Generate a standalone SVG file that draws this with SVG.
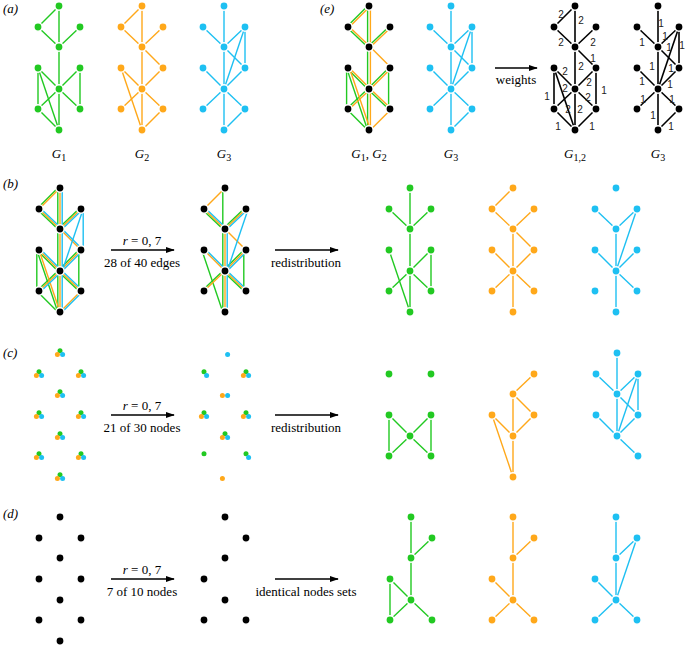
<svg xmlns="http://www.w3.org/2000/svg" xmlns:xlink="http://www.w3.org/1999/xlink" width="685" height="645" viewBox="0 0 685 645">
<style>
.g{stroke:#22c922;fill:#22c922}.o{stroke:#ffa81a;fill:#ffa81a}.b{stroke:#1ec0f2;fill:#1ec0f2}.k{stroke:#000;fill:#000}
.E use{stroke-width:1.4;fill:none}
.W use{stroke-width:1.6}
text{font-family:"Liberation Serif",serif;font-size:13px;fill:#000;stroke:none}
.lab{font-style:italic}
.w{font-family:"Liberation Sans",sans-serif;font-size:10px;text-anchor:middle;dominant-baseline:central;fill:#222}
.ar{stroke:#000;stroke-width:1.3;fill:none}
</style>
<defs>
<marker id="ah" viewBox="0 0 10 10" refX="9" refY="5" markerWidth="9" markerHeight="9" markerUnits="userSpaceOnUse" orient="auto"><path d="M0,1.5L10,5L0,8.5z" fill="#000"/></marker>
<line id="e01" x1="0" y1="0" x2="-21" y2="21"/>
<line id="e03" x1="0" y1="0" x2="0" y2="41"/>
<line id="e13" x1="-21" y1="21" x2="0" y2="41"/>
<line id="e23" x1="21" y1="21" x2="0" y2="41"/>
<line id="e25" x1="21" y1="21" x2="21" y2="62"/>
<line id="e26" x1="21" y1="21" x2="0" y2="83"/>
<line id="e35" x1="0" y1="41" x2="21" y2="62"/>
<line id="e36" x1="0" y1="41" x2="0" y2="83"/>
<line id="e46" x1="-21" y1="62" x2="0" y2="83"/>
<line id="e56" x1="21" y1="62" x2="0" y2="83"/>
<line id="e47" x1="-21" y1="62" x2="-21" y2="103"/>
<line id="e49" x1="-21" y1="62" x2="0" y2="124"/>
<line id="e58" x1="21" y1="62" x2="21" y2="103"/>
<line id="e67" x1="0" y1="83" x2="-21" y2="103"/>
<line id="e68" x1="0" y1="83" x2="21" y2="103"/>
<line id="e69" x1="0" y1="83" x2="0" y2="124"/>
<line id="e79" x1="-21" y1="103" x2="0" y2="124"/>
<line id="e89" x1="21" y1="103" x2="0" y2="124"/>
<circle id="p0" cx="0" cy="0" r="4.2" stroke="#fff" stroke-width="1.6"/>
<circle id="p1" cx="-21" cy="21" r="4.2" stroke="#fff" stroke-width="1.6"/>
<circle id="p2" cx="21" cy="21" r="4.2" stroke="#fff" stroke-width="1.6"/>
<circle id="p3" cx="0" cy="41" r="4.2" stroke="#fff" stroke-width="1.6"/>
<circle id="p4" cx="-21" cy="62" r="4.2" stroke="#fff" stroke-width="1.6"/>
<circle id="p5" cx="21" cy="62" r="4.2" stroke="#fff" stroke-width="1.6"/>
<circle id="p6" cx="0" cy="83" r="4.2" stroke="#fff" stroke-width="1.6"/>
<circle id="p7" cx="-21" cy="103" r="4.2" stroke="#fff" stroke-width="1.6"/>
<circle id="p8" cx="21" cy="103" r="4.2" stroke="#fff" stroke-width="1.6"/>
<circle id="p9" cx="0" cy="124" r="4.2" stroke="#fff" stroke-width="1.6"/>
<g id="N"><use href="#p0"/><use href="#p1"/><use href="#p2"/><use href="#p3"/><use href="#p4"/><use href="#p5"/><use href="#p6"/><use href="#p7"/><use href="#p8"/><use href="#p9"/></g>
<g id="T0"><circle cx="0" cy="-2.3" r="2.5" fill="#22c922"/><circle cx="-2.6" cy="1.5" r="2.5" fill="#ffa81a"/><circle cx="2.6" cy="1.5" r="2.5" fill="#1ec0f2"/></g>
<g id="G1e"><use href="#e01"/><use href="#e03"/><use href="#e13"/><use href="#e23"/><use href="#e36"/><use href="#e46"/><use href="#e56"/><use href="#e47"/><use href="#e49"/><use href="#e58"/><use href="#e67"/><use href="#e68"/><use href="#e69"/><use href="#e79"/></g>
<g id="G2e"><use href="#e01"/><use href="#e03"/><use href="#e13"/><use href="#e23"/><use href="#e35"/><use href="#e36"/><use href="#e46"/><use href="#e56"/><use href="#e49"/><use href="#e67"/><use href="#e68"/><use href="#e69"/><use href="#e89"/></g>
<g id="G3e"><use href="#e03"/><use href="#e13"/><use href="#e23"/><use href="#e25"/><use href="#e35"/><use href="#e26"/><use href="#e36"/><use href="#e46"/><use href="#e56"/><use href="#e67"/><use href="#e68"/><use href="#e69"/><use href="#e89"/></g>
<g id="Gbg"><use href="#e03"/><use href="#e13"/><use href="#e23"/><use href="#e36"/><use href="#e49"/><use href="#e56"/><use href="#e58"/><use href="#e67"/><use href="#e68"/><use href="#e69"/></g>
<g id="Gbo"><use href="#e01"/><use href="#e13"/><use href="#e23"/><use href="#e35"/><use href="#e36"/><use href="#e46"/><use href="#e56"/><use href="#e67"/><use href="#e68"/><use href="#e69"/></g>
<g id="Gbb"><use href="#e13"/><use href="#e23"/><use href="#e26"/><use href="#e36"/><use href="#e46"/><use href="#e56"/><use href="#e68"/><use href="#e69"/></g>
</defs>
<rect width="685" height="645" fill="#fff"/>

<!-- row labels -->
<text x="3" y="13" class="lab">(a)</text>
<text x="320" y="13" class="lab">(e)</text>
<text x="3" y="188" class="lab">(b)</text>
<text x="3" y="357" class="lab">(c)</text>
<text x="3" y="518" class="lab">(d)</text>

<!-- connectors: arrows -->
<g id="connectors">
<line class="ar" x1="495" y1="68" x2="537" y2="68" marker-end="url(#ah)"/>
<line class="ar" x1="111" y1="250" x2="174" y2="250" marker-end="url(#ah)"/>
<line class="ar" x1="275" y1="250" x2="338" y2="250" marker-end="url(#ah)"/>
<line class="ar" x1="111" y1="415" x2="174" y2="415" marker-end="url(#ah)"/>
<line class="ar" x1="275" y1="415" x2="338" y2="415" marker-end="url(#ah)"/>
<line class="ar" x1="111" y1="579" x2="174" y2="579" marker-end="url(#ah)"/>
<line class="ar" x1="275" y1="579" x2="338" y2="579" marker-end="url(#ah)"/>
</g>
<g id="arrow-labels" text-anchor="middle">
<text x="516" y="84">weights</text>
<text x="142" y="245"><tspan font-style="italic">r</tspan> = 0, 7</text>
<text x="142" y="267">28 of 40 edges</text>
<text x="306" y="267">redistribution</text>
<text x="142" y="410"><tspan font-style="italic">r</tspan> = 0, 7</text>
<text x="142" y="432">21 of 30 nodes</text>
<text x="306" y="432">redistribution</text>
<text x="142" y="574"><tspan font-style="italic">r</tspan> = 0, 7</text>
<text x="142" y="596">7 of 10 nodes</text>
<text x="306" y="596">identical nodes sets</text>
</g>

<!-- row a -->
<g id="a-G1" transform="translate(59,6)"><g class="E g"><use href="#G1e"/></g><use href="#N" class="g" style="stroke:none"/></g>
<g id="a-G2" transform="translate(142,6)"><g class="E o"><use href="#G2e"/></g><use href="#N" class="o" style="stroke:none"/></g>
<g id="a-G3" transform="translate(224,6)"><g class="E b"><use href="#G3e"/></g><use href="#N" class="b" style="stroke:none"/></g>
<g font-size="14" class="lab" text-anchor="middle">
<text x="59" y="158" class="lab">G<tspan font-size="10" dy="3" font-style="normal">1</tspan></text>
<text x="142" y="158" class="lab">G<tspan font-size="10" dy="3" font-style="normal">2</tspan></text>
<text x="224" y="158" class="lab">G<tspan font-size="10" dy="3" font-style="normal">3</tspan></text>
<text x="369" y="158" class="lab">G<tspan font-size="10" dy="3" font-style="normal">1</tspan><tspan dy="-3" font-style="normal">, </tspan>G<tspan font-size="10" dy="3" font-style="normal">2</tspan></text>
<text x="451" y="158" class="lab">G<tspan font-size="10" dy="3" font-style="normal">3</tspan></text>
<text x="575" y="158" class="lab">G<tspan font-size="10" dy="3" font-style="normal">1,2</tspan></text>
<text x="658" y="158" class="lab">G<tspan font-size="10" dy="3" font-style="normal">3</tspan></text>
</g>

<!-- row e -->
<g id="e-G12" transform="translate(369,6)"><g class="E g" transform="translate(-1.4,0)"><use href="#G1e"/></g><g class="E o" transform="translate(1.4,0)"><use href="#G2e"/></g><use href="#N" class="k" style="stroke:none"/></g>
<g id="e-G3" transform="translate(451,6)"><g class="E b"><use href="#G3e"/></g><use href="#N" class="b" style="stroke:none"/></g>
<g id="e-W12" transform="translate(575,6)">
<g class="E W k"><use href="#e01"/><use href="#e03"/><use href="#e13"/><use href="#e23"/><use href="#e35"/><use href="#e36"/><use href="#e46"/><use href="#e56"/><use href="#e47"/><use href="#e49"/><use href="#e58"/><use href="#e67"/><use href="#e68"/><use href="#e69"/><use href="#e79"/><use href="#e89"/></g>
<use href="#N" class="k" style="stroke:none"/>
<text class="w" x="-14" y="8">2</text><text class="w" x="6" y="14">2</text><text class="w" x="-14" y="36">2</text><text class="w" x="18" y="36">2</text><text class="w" x="18" y="52">1</text><text class="w" x="6" y="60">2</text><text class="w" x="-10" y="65">2</text><text class="w" x="-10" y="82">2</text><text class="w" x="-7" y="103">2</text><text class="w" x="14" y="76">2</text><text class="w" x="13" y="91">2</text><text class="w" x="5" y="103">2</text><text class="w" x="-28" y="90">1</text><text class="w" x="29" y="84">1</text><text class="w" x="-17" y="120">1</text><text class="w" x="17" y="120">1</text>
</g>
<g id="e-W3" transform="translate(658,6)">
<g class="E W k"><use href="#G3e"/></g>
<use href="#N" class="k" style="stroke:none"/>
<text class="w" x="3" y="17">1</text><text class="w" x="-16" y="36">1</text><text class="w" x="7" y="30">1</text><text class="w" x="24" y="39">1</text><text class="w" x="11" y="41">1</text><text class="w" x="-6" y="60">1</text><text class="w" x="13" y="62">1</text><text class="w" x="-16" y="75">1</text><text class="w" x="12" y="78">1</text><text class="w" x="-15" y="93">1</text><text class="w" x="14" y="93">1</text><text class="w" x="-5" y="109">1</text><text class="w" x="13" y="120">1</text>
</g>

<!-- row b -->
<g id="b-all" transform="translate(60,188)"><g class="E g" transform="translate(-2.2,0)"><use href="#G1e"/></g><g class="E o"><use href="#G2e"/></g><g class="E b" transform="translate(2.2,0)"><use href="#G3e"/></g><use href="#N" class="k" style="stroke:none"/></g>
<g id="b-sub" transform="translate(225,188)"><g class="E g" transform="translate(-2.2,0)"><use href="#Gbg"/></g><g class="E o"><use href="#Gbo"/></g><g class="E b" transform="translate(2.2,0)"><use href="#Gbb"/></g><use href="#N" class="k" style="stroke:none"/></g>
<g id="b-G1" transform="translate(410,188)"><g class="E g"><use href="#Gbg"/></g><use href="#N" class="g" style="stroke:none"/></g>
<g id="b-G2" transform="translate(513,188)"><g class="E o"><use href="#Gbo"/></g><use href="#N" class="o" style="stroke:none"/></g>
<g id="b-G3" transform="translate(616,188)"><g class="E b"><use href="#Gbb"/></g><use href="#N" class="b" style="stroke:none"/></g>

<!-- row c -->
<g id="c-all" transform="translate(60,353)">
<use href="#T0" x="0" y="0"/><use href="#T0" x="-21" y="21"/><use href="#T0" x="21" y="21"/><use href="#T0" x="0" y="41"/><use href="#T0" x="-21" y="62"/><use href="#T0" x="21" y="62"/><use href="#T0" x="0" y="83"/><use href="#T0" x="-21" y="103"/><use href="#T0" x="21" y="103"/><use href="#T0" x="0" y="124"/>
</g>
<g id="c-sub" transform="translate(225,353)">
<circle cx="2.6" cy="1.5" r="2.5" fill="#1ec0f2"/>
<circle cx="-21" cy="18.7" r="2.5" fill="#22c922"/><circle cx="-18.4" cy="22.5" r="2.5" fill="#1ec0f2"/>
<use href="#T0" x="21" y="21"/>
<circle cx="-2.6" cy="42.5" r="2.5" fill="#ffa81a"/><circle cx="2.6" cy="42.5" r="2.5" fill="#1ec0f2"/>
<use href="#T0" x="-21" y="62"/><use href="#T0" x="21" y="62"/><use href="#T0" x="0" y="83"/>
<circle cx="-21" cy="100.7" r="2.5" fill="#22c922"/>
<circle cx="21" cy="100.7" r="2.5" fill="#22c922"/><circle cx="23.6" cy="104.5" r="2.5" fill="#1ec0f2"/>
<circle cx="-2.6" cy="125.5" r="2.5" fill="#ffa81a"/>
</g>
<g id="c-G1" transform="translate(410,353)"><g class="E g"><use href="#e46"/><use href="#e56"/><use href="#e47"/><use href="#e58"/><use href="#e67"/><use href="#e68"/></g>
<g class="g" style="stroke:none"><use href="#p1"/><use href="#p2"/><use href="#p4"/><use href="#p5"/><use href="#p6"/><use href="#p7"/><use href="#p8"/></g></g>
<g id="c-G2" transform="translate(513,353)"><g class="E o"><use href="#e23"/><use href="#e35"/><use href="#e36"/><use href="#e46"/><use href="#e56"/><use href="#e49"/><use href="#e69"/></g>
<g class="o" style="stroke:none"><use href="#p2"/><use href="#p3"/><use href="#p4"/><use href="#p5"/><use href="#p6"/><use href="#p9"/></g></g>
<g id="c-G3" transform="translate(617,353)"><g class="E b"><use href="#e03"/><use href="#e13"/><use href="#e23"/><use href="#e25"/><use href="#e35"/><use href="#e26"/><use href="#e36"/><use href="#e46"/><use href="#e56"/><use href="#e68"/></g>
<g class="b" style="stroke:none"><use href="#p0"/><use href="#p1"/><use href="#p2"/><use href="#p3"/><use href="#p4"/><use href="#p5"/><use href="#p6"/><use href="#p8"/></g></g>

<!-- row d -->
<g id="d-all" transform="translate(60,517)"><use href="#N" class="k" style="stroke:none"/></g>
<g id="d-sub" transform="translate(225,517)" class="k" style="stroke:none"><use href="#p0"/><use href="#p2"/><use href="#p3"/><use href="#p4"/><use href="#p6"/><use href="#p7"/><use href="#p8"/></g>
<g id="d-G1" transform="translate(411,517)"><g class="E g"><use href="#e03"/><use href="#e23"/><use href="#e36"/><use href="#e46"/><use href="#e47"/><use href="#e67"/><use href="#e68"/></g>
<g class="g" style="stroke:none"><use href="#p0"/><use href="#p2"/><use href="#p3"/><use href="#p4"/><use href="#p6"/><use href="#p7"/><use href="#p8"/></g></g>
<g id="d-G2" transform="translate(513,517)"><g class="E o"><use href="#e03"/><use href="#e23"/><use href="#e36"/><use href="#e46"/><use href="#e67"/><use href="#e68"/></g>
<g class="o" style="stroke:none"><use href="#p0"/><use href="#p2"/><use href="#p3"/><use href="#p4"/><use href="#p6"/><use href="#p7"/><use href="#p8"/></g></g>
<g id="d-G3" transform="translate(616,517)"><g class="E b"><use href="#e03"/><use href="#e23"/><use href="#e26"/><use href="#e36"/><use href="#e46"/><use href="#e67"/><use href="#e68"/></g>
<g class="b" style="stroke:none"><use href="#p0"/><use href="#p2"/><use href="#p3"/><use href="#p4"/><use href="#p6"/><use href="#p7"/><use href="#p8"/></g></g>
</svg>
